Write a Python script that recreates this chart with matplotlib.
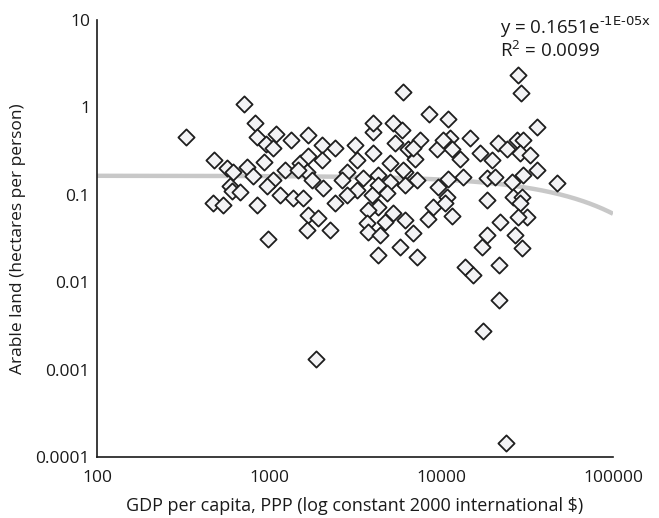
import matplotlib

matplotlib.use("Agg")

import matplotlib.pyplot as plt
import numpy as np

# GDP per capita (PPP, constant 2000 international $) and arable land (ha per person)
gdp = [
    330, 715, 830, 850, 960, 1055, 1100, 1340, 480, 570, 620, 745, 805, 935,
    1240, 1055, 975, 595, 610, 680, 470, 540, 850, 1160, 990,
    1380, 1580, 1690, 2030, 2420, 3160, 4000, 4050, 5260, 5940, 5400, 4030,
    3250, 6430, 7060, 1510, 1690, 1660, 2030, 1780, 2060, 2840, 2650, 3520,
    4300, 5040, 6170, 5040, 4300, 6170, 3250, 2840, 2420, 3970, 4860, 4300,
    3770, 5260, 6170, 1690, 1930, 1660, 2260, 3720, 3770, 4410, 4720, 6870,
    4300, 5780, 7240, 1475,
    6010, 8510, 10990, 28050, 29190, 36140, 7550, 6870, 9480, 11270, 11590,
    10280, 12880, 14740, 16850, 19810, 21450, 24190, 27670, 29980, 28760,
    32870, 36140, 29980, 25880, 18490, 20590, 13430, 10990, 9620, 7240, 6010,
    10840, 8980, 10540, 8390, 11590, 18490, 26240, 29580, 28760, 22010, 31620,
    28050, 18490, 17280, 26900, 29580, 13790, 15350, 21730, 21730, 17540,
    1875, 23880, 47200,
]
land = [
    0.46, 1.09, 0.66, 0.46, 0.38, 0.34, 0.50, 0.42, 0.25, 0.20, 0.18, 0.21, 0.164, 0.24,
    0.19, 0.148, 0.126, 0.126, 0.11, 0.108, 0.081, 0.076, 0.076, 0.10, 0.031,
    0.092, 0.092, 0.48, 0.37, 0.34, 0.37, 0.52, 0.66, 0.66, 0.55, 0.39, 0.30,
    0.25, 0.33, 0.26, 0.23, 0.28, 0.18, 0.25, 0.148, 0.12, 0.18, 0.148, 0.156,
    0.17, 0.23, 0.18, 0.14, 0.13, 0.13, 0.114, 0.10, 0.081, 0.10, 0.105, 0.072,
    0.067, 0.062, 0.052, 0.059, 0.054, 0.040, 0.040, 0.048, 0.0375, 0.0347, 0.049, 0.0365,
    0.0205, 0.0253, 0.0194, 0.19,
    1.50, 0.84, 0.74, 2.35, 1.46, 0.60, 0.42, 0.34, 0.33, 0.45, 0.33,
    0.42, 0.26, 0.45, 0.30, 0.25, 0.39, 0.33, 0.42, 0.42, 0.30,
    0.285, 0.19, 0.17, 0.14, 0.156, 0.16, 0.16, 0.152, 0.123, 0.148, 0.19,
    0.094, 0.072, 0.081, 0.053, 0.057, 0.087, 0.094, 0.094, 0.081, 0.049, 0.056,
    0.056, 0.0347, 0.0253, 0.0347, 0.0246, 0.0149, 0.0121, 0.0157, 0.0063, 0.0028,
    0.00132, 0.000145, 0.136,
]

# Exponential trend line reported on the chart
trend_a = 0.1651
trend_b = -1e-05

x_ticks = [100, 1000, 10000, 100000]
x_tick_labels = ["100", "1000", "10000", "100000"]
y_ticks = [0.0001, 0.001, 0.01, 0.1, 1, 10]
y_tick_labels = ["0.0001", "0.001", "0.01", "0.1", "1", "10"]

plt.rcParams["font.family"] = ["Open Sans", "DejaVu Sans"]

figure = plt.figure(figsize=(6.59, 5.18), dpi=100)
axis = figure.add_axes([97 / 659, 1 - 457 / 518, (613 - 97) / 659, (457 - 20) / 518])

trend_x = np.logspace(2, 5, 400)
axis.plot(trend_x, trend_a * np.exp(trend_b * trend_x), color="#c8c8c8",
          linewidth=3.2, zorder=1, solid_capstyle="butt")

axis.scatter(gdp, land, marker="D", s=68, facecolors="#f3f3f5",
             edgecolors="#1e1e1e", linewidths=1.3, zorder=3)

axis.set_xscale("log")
axis.set_yscale("log")
axis.set_xlim(100, 100000)
axis.set_ylim(0.0001, 10)
axis.set_xticks(x_ticks)
axis.set_xticklabels(x_tick_labels)
axis.set_yticks(y_ticks)
axis.set_yticklabels(y_tick_labels)
axis.minorticks_off()
axis.tick_params(axis="x", length=0, pad=9, labelsize=12.5, colors="#1a1a1a")
axis.tick_params(axis="y", length=0, pad=5, labelsize=12.5, colors="#1a1a1a")

for side in ["top", "right"]:
    axis.spines[side].set_visible(False)
for side in ["left", "bottom"]:
    axis.spines[side].set_linewidth(1.2)
    axis.spines[side].set_color("#1a1a1a")

axis.set_xlabel("GDP per capita, PPP (log constant 2000 international $)",
                fontsize=13, labelpad=8, color="#1a1a1a")
axis.set_ylabel("Arable land (hectares per person)", fontsize=12.5,
                labelpad=7, color="#1a1a1a")

figure.text(500 / 659, 1 - 34 / 518, r"y = 0.1651e$^{\mathregular{\text{-1E-05x}}}$",
            fontsize=13.5, va="baseline", ha="left", color="#1a1a1a")
figure.text(500 / 659, 1 - 57 / 518, r"R$^{\mathregular{2}}$ = 0.0099",
            fontsize=13.5, va="baseline", ha="left", color="#1a1a1a")

figure.savefig("out.png", dpi=100)
plt.close(figure)
